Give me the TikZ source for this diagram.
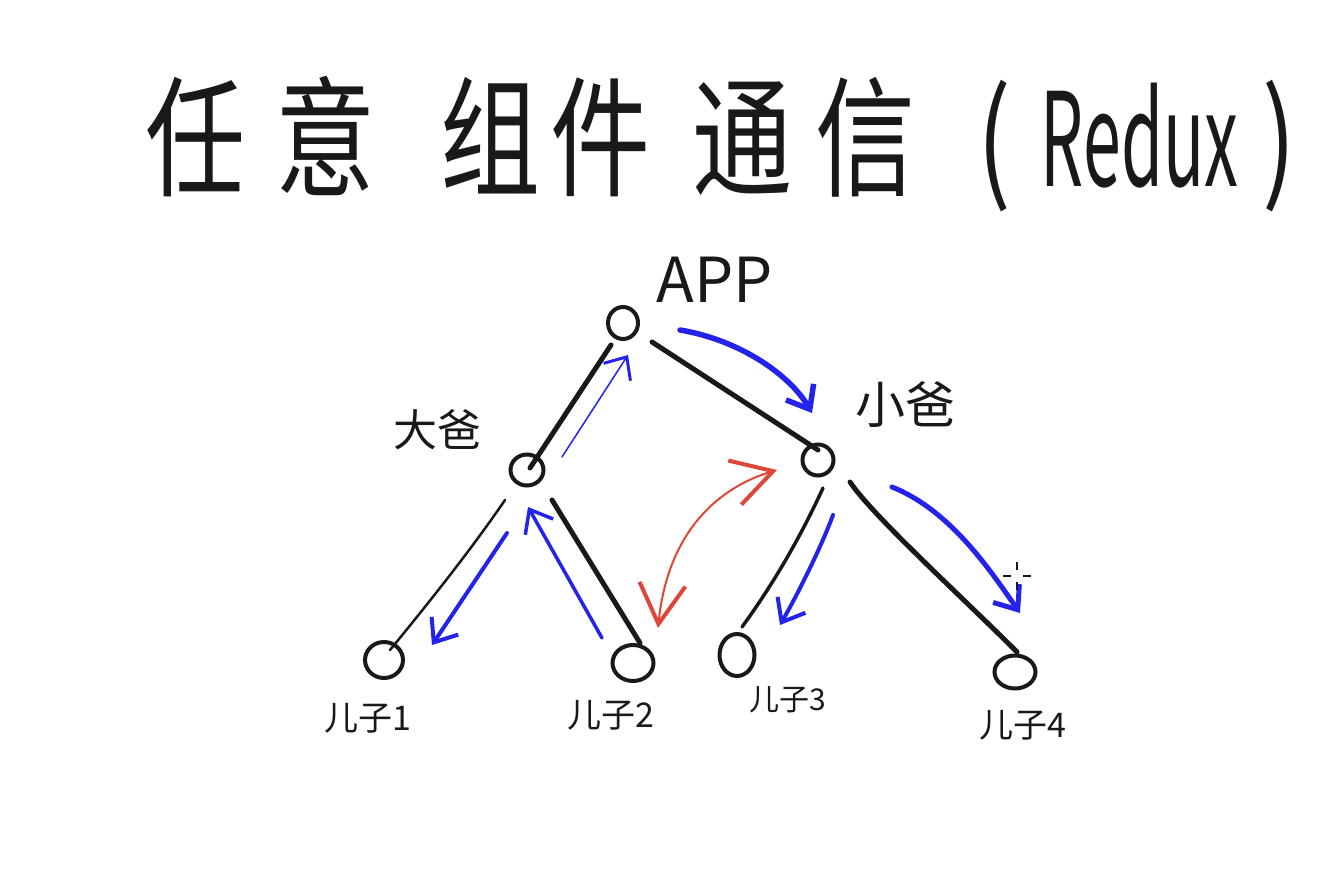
\documentclass[tikz,border=0pt]{standalone}
\usepackage{fontspec}
\usepackage{graphicx}
\newfontfamily\cjk{Noto Sans CJK SC}
\usetikzlibrary{arrows.meta,shapes.geometric,calc}
\definecolor{penblue}{RGB}{35,35,235}
\definecolor{penred}{RGB}{222,70,55}
\definecolor{ink}{RGB}{25,25,25}
\begin{document}
\begin{tikzpicture}[x=1pt,y=-1pt,
  vtx/.style={draw=ink, line width=4pt, ellipse, inner sep=0pt},
  edge/.style={draw=ink, line width=5pt, line cap=round},
  thinedge/.style={draw=ink, line width=2.5pt, line cap=round},
  midedge/.style={draw=ink, line width=3.5pt, line cap=round},
  bluearrow/.style={draw=penblue, line width=#1, line cap=round, line join=round,
    -{Straight Barb[length=20pt,width=32pt,line width=#1]}},
  bluethin/.style={draw=penblue, line width=1.5pt, line cap=round,
    -{Straight Barb[length=18pt,width=32pt,line width=3pt]}},
  redarrow/.style={draw=penred, line width=2pt, line cap=round,
    {Straight Barb[length=40pt,width=46pt,line width=4pt]}-{Straight Barb[length=40pt,width=46pt,line width=4pt]}},
  lbl/.style={inner sep=0pt, text=ink},
]
\useasboundingbox (0,0) rectangle (1326,870);

% title
\node[anchor=base west, inner sep=0pt, text=ink] (title) at (145,186)
  {\cjk\fontsize{100}{100}\selectfont\scalebox{1}[1.3]{任\hspace{30pt}意\hspace{65pt}组\hspace{10pt}件\hspace{42pt}通\hspace{23pt}信\hspace{62pt}(\hspace{30pt}\scalebox{0.68}[1]{Redux}\hspace{24pt})}};

% nodes
\node[vtx, minimum width=30pt, minimum height=32pt] (app) at (623,323) {};
\node[vtx, minimum width=33pt, minimum height=31pt] (dab) at (527,470) {};
\node[vtx, minimum width=31pt, minimum height=31pt] (xb) at (818,460) {};
\node[vtx, minimum width=38pt, minimum height=36pt] (s1) at (384,660) {};
\node[vtx, minimum width=41pt, minimum height=36pt] (s2) at (633,663) {};
\node[vtx, minimum width=35pt, minimum height=42pt] (s3) at (737,655) {};
\node[vtx, minimum width=41pt, minimum height=33pt] (s4) at (1015,672) {};

% labels
\node[lbl, font=\cjk\fontsize{62}{62}\selectfont] (lapp) at (715,280) {APP};
\node[lbl, font=\cjk\fontsize{44}{44}\selectfont] (ldab) at (437,430) {大爸};
\node[lbl, font=\cjk\fontsize{50}{50}\selectfont] (lxb) at (905,405) {小爸};
\node[lbl, font=\cjk\fontsize{34}{34}\selectfont] (ls1) at (368,718) {儿子1};
\node[lbl, font=\cjk\fontsize{34}{34}\selectfont] (ls2) at (611,715) {儿子2};
\node[lbl, font=\cjk\fontsize{30}{30}\selectfont] (ls3) at (788,700) {儿子3};
\node[lbl, font=\cjk\fontsize{34}{34}\selectfont] (ls4) at (1023,725) {儿子4};

% black edges
\draw[edge] ($(app)+(-12,22)$) -- ($(dab)+(3,-2)$);
\draw[edge] ($(app)+(29,19)$) -- ($(xb)+(0,-10)$);
\draw[thinedge] ($(dab)+(-22,30)$) .. controls ($(dab)+(-52,74)$) and ($(s1)+(52,-66)$) .. ($(s1)+(6,-10)$);
\draw[edge] ($(dab)+(25,30)$) -- ($(s2)+(7,-20)$);
\draw[midedge] ($(xb)+(5,28)$) .. controls ($(xb)+(-17,76)$) and ($(s3)+(37,-72)$) .. ($(s3)+(5,-28)$);
\draw[edge] ($(xb)+(32,22)$) .. controls ($(xb)+(54,55)$) and ($(s4)+(-55,-77)$) .. ($(s4)+(2,-20)$);

% blue arrows
\coordinate (b1s) at (562,457); \coordinate (b1e) at (628,355);
\coordinate (b2s) at (680,330); \coordinate (b2e) at (812,413);
\coordinate (b3s) at (507,533); \coordinate (b3e) at (432,645);
\coordinate (b4s) at (602,638); \coordinate (b4e) at (528,507);
\coordinate (b5s) at (833,515); \coordinate (b5e) at (780,625);
\coordinate (b6s) at (892,487); \coordinate (b6e) at (1020,613);
\draw[bluethin] (b1s) -- (b1e);
\draw[bluearrow=5.5pt] (b2s) .. controls (740,340) and (790,375) .. (b2e);
\draw[bluearrow=4pt] (b3s) -- (b3e);
\draw[bluearrow=3.5pt] (b4s) -- (b4e);
\draw[bluearrow=4pt] (b5s) .. controls (822,545) and (800,590) .. (b5e);
\draw[bluearrow=5pt] (b6s) .. controls (950,510) and (990,570) .. (b6e);

% red double arrow
\coordinate (r1) at (658,628); \coordinate (r2) at (777,470);
\draw[redarrow] (r1) .. controls (668,530) and (720,487) .. (r2);

% cursor crosshair
\draw[ink, line width=1.2pt] (1003,576) -- (1011,576) (1023,576) -- (1031,576)
  (1017,562) -- (1017,570) (1017,582) -- (1017,590);
\end{tikzpicture}
\end{document}
